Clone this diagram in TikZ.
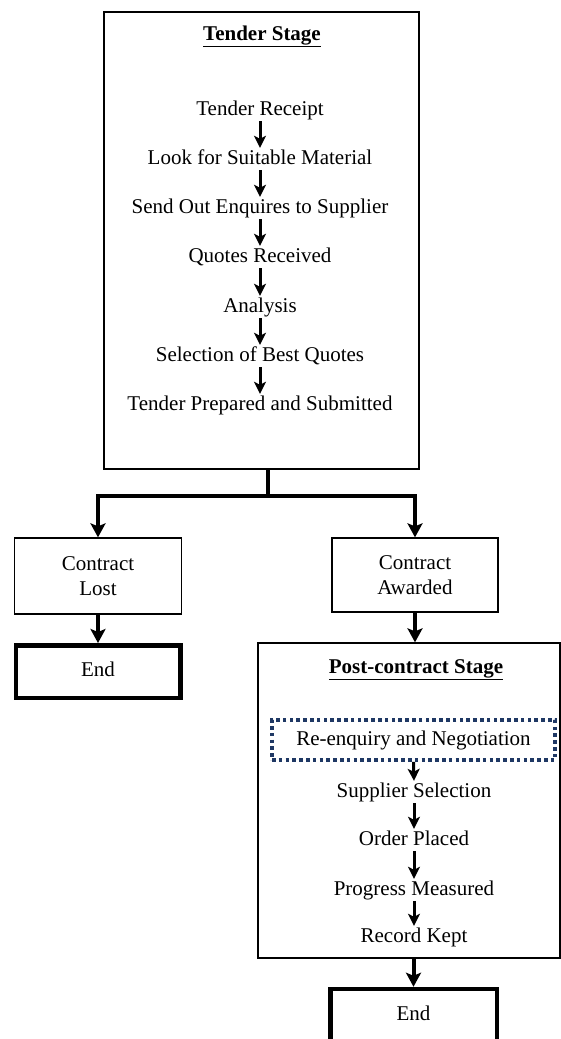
\documentclass[tikz,border=0pt]{standalone}
\usepackage{fontspec}
\setmainfont{Liberation Serif}
\usetikzlibrary{arrows.meta}
\definecolor{navy}{RGB}{31,56,100}
\begin{document}
\begin{tikzpicture}[x=1pt,y=-1pt,
  every node/.style={font=\fontsize{21}{25}\selectfont},
  txt/.style={inner sep=1pt, text height=15pt, text depth=5pt, anchor=base},
  stage/.style={draw, line width=1.6pt, inner sep=0pt},
  box/.style={draw, line width=1.3pt, align=center, inner sep=0pt},
  endbox/.style={draw, line width=4.5pt, inner sep=0pt},
  dotbox/.style={draw=navy, line width=3.6pt, dash pattern=on 3.6pt off 3.2pt, inner sep=0pt,
                 text height=15pt, text depth=5pt},
  flow/.style={line width=3pt, -{Stealth[length=12pt,width=12pt,inset=3pt]}},
  trunk/.style={line width=4pt},
  branch/.style={line width=4pt, -{Stealth[length=14pt,width=15pt,inset=3pt]}},
]
\clip (0,0) rectangle (561,1039);
\useasboundingbox (0,0) rectangle (561,1039);

% ---------- tender stage ----------
\node[stage, minimum width=315pt, minimum height=457pt] (tender) at (261.5,240.5) {};
\node[txt] (ttitle) at (262,40) {\underline{\textbf{Tender Stage}}};
\node[txt] (t1) at (260,115) {Tender Receipt};
\node[txt] (t2) at (260,164) {Look for Suitable Material};
\node[txt] (t3) at (260,213) {Send Out Enquires to Supplier};
\node[txt] (t4) at (260,262) {Quotes Received};
\node[txt] (t5) at (260,312) {Analysis};
\node[txt] (t6) at (260,361) {Selection of Best Quotes};
\node[txt] (t7) at (260,410) {Tender Prepared and Submitted};
\foreach \a/\b in {t1/t2,t2/t3,t3/t4,t4/t5,t5/t6,t6/t7}
  \draw[flow] (\a.south) -- (\b.north);

% ---------- outcome ----------
\node[box, minimum width=167pt, minimum height=76pt] (lost) at (98,576) {Contract\\Lost};
\node[box, minimum width=166pt, minimum height=74pt] (awarded) at (415,575) {Contract\\Awarded};
\node[endbox, text height=14.5pt, text depth=5.5pt,
      minimum width=164.5pt, minimum height=52.5pt] (endA) at (98,671.5) {End};

\coordinate (split) at (268,496);
\draw[trunk] (tender.south -| split) -- (split);
\draw[branch] (split) -| (lost.north);
\draw[branch] (split) -| (awarded.north);
\draw[branch] (lost.south) -- (endA.north);

% ---------- post-contract stage ----------
\node[stage, line width=1.3pt, minimum width=302pt, minimum height=315pt] (post) at (409,800.5) {};
\draw[branch] (awarded.south) -- (awarded.south |- post.north);
\node[txt] (ptitle) at (416,673) {\underline{\textbf{Post-contract Stage}}};
\node[dotbox, minimum width=283pt, minimum height=40pt] (p1) at (413.5,740) {Re-enquiry and Negotiation};
\node[txt] (p2) at (414,797) {Supplier Selection};
\node[txt] (p3) at (414,845) {Order Placed};
\node[txt] (p4) at (414,895) {Progress Measured};
\node[txt] (p5) at (414,942) {Record Kept};
\foreach \a/\b in {p1/p2,p2/p3,p3/p4,p4/p5}
  \draw[flow] (\a.south) -- (\b.north);

\node[endbox, text height=10pt, text depth=10pt,
      minimum width=166.5pt, minimum height=62pt] (endB) at (413.5,1020) {End};
\draw[branch] (post.south -| endB.north) -- (endB.north);
\end{tikzpicture}
\end{document}
